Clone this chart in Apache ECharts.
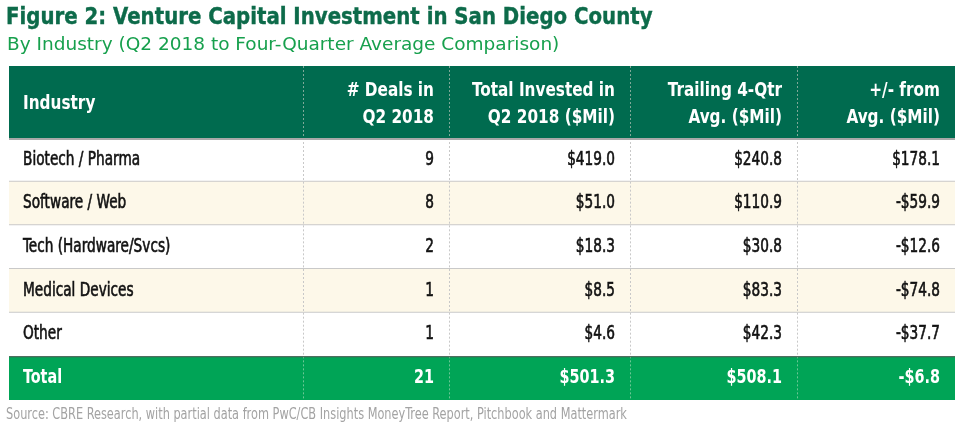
<!DOCTYPE html>
<html>
<head>
<meta charset="utf-8">
<script src="https://cdn.jsdelivr.net/npm/echarts@6/dist/echarts.min.js"></script>
<style>
html,body{margin:0;padding:0;background:#fff;}
#chart{width:969px;height:438px;}
</style>
</head>
<body>
<div id="chart"></div>
<script>
// ---- data ----
var titleText = 'Figure 2: Venture Capital Investment in San Diego County';
var subtitleText = 'By Industry (Q2 2018 to Four-Quarter Average Comparison)';
var sourceText = 'Source: CBRE Research, with partial data from PwC/CB Insights MoneyTree Report, Pitchbook and Mattermark';
var headers = ['Industry', '# Deals in\nQ2 2018', 'Total Invested in\nQ2 2018 ($Mil)', 'Trailing 4-Qtr\nAvg. ($Mil)', '+/- from\nAvg. ($Mil)'];
var industries = ['Biotech / Pharma', 'Software / Web', 'Tech (Hardware/Svcs)', 'Medical Devices', 'Other'];
var deals = [9, 8, 2, 1, 1];
var invested = [419.0, 51.0, 18.3, 8.5, 4.6];
var trailing = [240.8, 110.9, 30.8, 83.3, 42.3];
var diffAvg = [178.1, -59.9, -12.6, -74.8, -37.7];
var totalLabel = 'Total';
var totalDeals = 21;
var totalInvested = 501.3;
var totalTrailing = 508.1;
var totalDiff = -6.8;

// ---- layout ----
var colEdges = [0, 294, 440, 621, 788, 946];
var FONT = "'DejaVu Sans Condensed', 'DejaVu Sans', sans-serif";
var FONT_T = "'DejaVu Sans', sans-serif";

function money(v) {
  return (v < 0 ? '-$' : '$') + Math.abs(v).toFixed(1);
}
var rowCats = industries.concat([totalLabel]);
function rowCells(i) {
  if (i < industries.length) {
    return [industries[i], String(deals[i]), money(invested[i]), money(trailing[i]), money(diffAvg[i])];
  }
  return [totalLabel, String(totalDeals), money(totalInvested), money(totalTrailing), money(totalDiff)];
}

function cellChildren(api, r, cells, opts) {
  var c = api.coord([0, r]);
  var h = api.size([0, 1])[1];
  var top = c[1] - h / 2;
  var xs = colEdges.map(function (e) { return api.coord([e, r])[0]; });
  var W = xs[xs.length - 1] - xs[0];
  var kids = [];
  kids.push({type: 'rect', shape: {x: xs[0], y: top, width: W, height: h},
    style: {fill: opts.fill}});
  for (var k = 1; k < xs.length - 1; k++) {
    kids.push({type: 'line', shape: {x1: Math.round(xs[k]) + 0.5, y1: top, x2: Math.round(xs[k]) + 0.5, y2: top + h},
      style: {stroke: opts.dash, lineWidth: 1, lineDash: [2, 2]}});
  }
  if (opts.topLine) {
    kids.push({type: 'rect', shape: {x: xs[0], y: top, width: W, height: opts.topLine.h},
      style: {fill: opts.topLine.color}});
  }
  if (opts.sep) {
    kids.push({type: 'rect', shape: {x: xs[0], y: top + h - 1, width: W, height: 2},
      style: {fill: '#c9c9c9'}});
  }
  for (var j = 0; j < cells.length; j++) {
    var left = j === 0;
    var st = {
      text: cells[j],
      x: 0, y: 0,
      align: left ? 'left' : 'right',
      verticalAlign: 'middle',
      fill: opts.color,
      font: opts.font,
      lineHeight: opts.lineHeight || 22
    };
    if (opts.stroke) { st.stroke = opts.color; st.lineWidth = opts.stroke; }
    kids.push({type: 'text',
      x: left ? xs[0] + 14 : xs[j + 1] - 15,
      y: c[1] + (opts.dy || 0),
      scaleX: opts.scaleX,
      style: st});
  }
  return kids;
}

var chart = echarts.init(document.getElementById('chart'), null, {renderer: 'canvas'});
var option = {
  animation: false,
  graphic: [
    {type: 'text', x: 6, y: 18, scaleX: 0.878, silent: true,
      style: {text: titleText, x: 0, y: 0, verticalAlign: 'middle', align: 'left',
        font: 'bold 22.5px ' + FONT_T, fill: '#0d6b4a', stroke: '#0d6b4a', lineWidth: 0.4}},
    {type: 'text', x: 7, y: 45.5, silent: true,
      style: {text: subtitleText, x: 0, y: 0, verticalAlign: 'middle', align: 'left',
        font: '18.5px ' + FONT_T, fill: '#17a04d'}},
    {type: 'text', x: 6, y: 415, scaleX: 0.84, silent: true,
      style: {text: sourceText, x: 0, y: 0, verticalAlign: 'middle', align: 'left',
        font: '15px ' + FONT, fill: '#a3a3a3'}}
  ],
  grid: [
    {left: 9, top: 66, width: 946, height: 72},
    {left: 9, top: 138, width: 946, height: 262}
  ],
  xAxis: [
    {type: 'value', gridIndex: 0, min: 0, max: 946, show: false},
    {type: 'value', gridIndex: 1, min: 0, max: 946, show: false}
  ],
  yAxis: [
    {type: 'category', gridIndex: 0, data: ['header'], show: false},
    {type: 'category', gridIndex: 1, data: rowCats, inverse: true, show: false}
  ],
  series: [
    {type: 'custom', xAxisIndex: 0, yAxisIndex: 0, data: [[0, 0]],
      encode: {x: 0, y: 1},
      renderItem: function (params, api) {
        return {type: 'group', children: cellChildren(api, 0, headers.slice(), {
          fill: '#006b4f', dash: '#7fa898', sep: false, color: '#ffffff',
          font: 'bold 20px ' + FONT, lineHeight: 27, dy: 2, scaleX: 0.85
        })};
      }},
    {type: 'custom', xAxisIndex: 1, yAxisIndex: 1,
      data: rowCats.map(function (n, i) { return [0, i]; }),
      encode: {x: 0, y: 1},
      renderItem: function (params, api) {
        var r = api.value(1);
        var isTotal = r === rowCats.length - 1;
        return {type: 'group', children: cellChildren(api, r, rowCells(r), {
          fill: isTotal ? '#00a456' : (r % 2 === 1 ? '#fdf8e9' : '#ffffff'),
          dash: isTotal ? '#6cc795' : '#c8c8c8',
          sep: !isTotal && r < rowCats.length - 2,
          topLine: isTotal ? {h: 1, color: '#555555'} : (r === 0 ? {h: 2, color: '#a8a8a8'} : null),
          color: isTotal ? '#ffffff' : '#111111',
          font: (isTotal ? 'bold 20px ' : '19px ') + FONT,
          stroke: isTotal ? 0 : 0.6,
          dy: 0, scaleX: 0.8
        })};
      }}
  ]
};
chart.setOption(option);
</script>
</body>
</html>
